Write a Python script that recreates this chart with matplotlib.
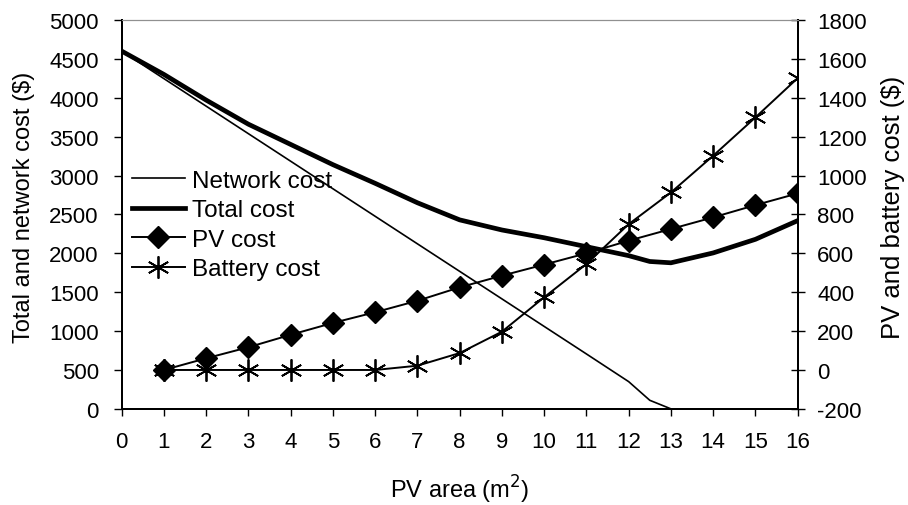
import matplotlib.pyplot as plt
import numpy as np

plt.rcParams['font.family'] = ['Liberation Sans', 'DejaVu Sans']
plt.rcParams['axes.unicode_minus'] = False

# PV area (m2)
area = [0, 1, 2, 3, 4, 5, 6, 7, 8, 9, 10, 11, 12, 13, 14, 15, 16]
area_net = [0, 1, 2, 3, 4, 5, 6, 7, 8, 9, 10, 11, 12, 12.5, 13, 14, 15, 16]
area_tot = [0, 1, 2, 3, 4, 5, 6, 7, 8, 9, 10, 11, 12, 12.5, 13, 14, 15, 16]
area_pv = [1, 2, 3, 4, 5, 6, 7, 8, 9, 10, 11, 12, 13, 14, 15, 16]

# costs in $
network_cost = [4600, 4246, 3892, 3538, 3184, 2830, 2476, 2122, 1768, 1414,
                1060, 706, 350, 110, 0, 0, 0, 0]
total_cost = [4600, 4300, 3970, 3660, 3400, 3140, 2900, 2650, 2430, 2300,
              2200, 2085, 1970, 1895, 1878, 2005, 2180, 2420]
pv_cost = [0, 60, 117, 181, 242, 297, 356, 425, 485, 542, 600, 665, 725,
           785, 848, 908]
battery_cost = [0, 0, 0, 0, 0, 0, 22, 87, 197, 374, 545, 750, 913, 1102,
                1299, 1501]

fs = 16

fig = plt.figure(figsize=(9.08, 5.06), dpi=100)
ax = fig.add_axes([0.134, 0.19, 0.7445, 0.7685])
ax2 = ax.twinx()

l1, = ax.plot(area_net, network_cost, color='black', lw=1.2,
              label='Network cost')
l2, = ax.plot(area_tot, total_cost, color='black', lw=3.4, label='Total cost')
l3, = ax2.plot(area_pv, pv_cost, color='black', lw=1.4, marker='D', ms=11,
               label='PV cost')
l4, = ax2.plot(area_pv, battery_cost, color='black', lw=1.4,
               marker=(6, 2, 0), ms=16, mew=1.3, label='Battery cost')

ax.set_xlim(0, 16)
ax.set_ylim(0, 5000)
ax2.set_ylim(-200, 1800)
ax.set_xticks(area)
ax.set_yticks(np.arange(0, 5001, 500))
ax2.set_yticks(np.arange(-200, 1801, 200))

ax.tick_params(axis='y', labelsize=fs, direction='out', length=5.5,
               width=1, pad=11)
ax.tick_params(axis='x', labelsize=fs, direction='out', length=5,
               width=1, pad=11)
ax2.tick_params(axis='y', labelsize=fs, direction='inout', length=10,
                width=1, pad=9)

for a in (ax, ax2):
    a.spines['top'].set_color('#909090')
    for s in ('left', 'right', 'bottom'):
        a.spines[s].set_linewidth(1.4)

ax.set_xlabel('PV area (m$^2$)', fontsize=17, labelpad=15)
ax.set_ylabel('Total and network cost ($)', fontsize=17, labelpad=10, y=0.52)
ax2.set_ylabel('PV and battery cost ($)', fontsize=18.5, labelpad=10, y=0.52)

fig.legend(handles=[l1, l2, l3, l4], loc='upper left',
           bbox_to_anchor=(0.145, 0.663), frameon=False, fontsize=17.5,
           handlelength=2.2, handletextpad=0.3, labelspacing=0.31,
           borderpad=0, borderaxespad=0)

fig.savefig('out.png', dpi=100)
